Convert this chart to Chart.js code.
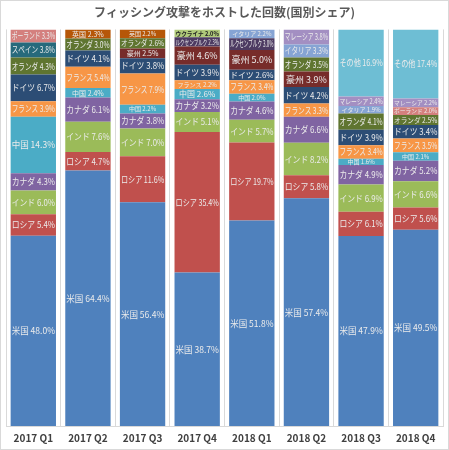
<!DOCTYPE html>
<html>
<head>
<meta charset="utf-8">
<script src="https://cdn.jsdelivr.net/npm/chart.js@4"></script>
<style>
  html, body { margin: 0; padding: 0; background: #fff; }
  #wrap { width: 449px; height: 450px; }
</style>
</head>
<body>
<div id="wrap"><canvas id="chart" width="449" height="450"></canvas></div>
<script>
// カテゴリ (四半期)
const quarters = ['2017 Q1', '2017 Q2', '2017 Q3', '2017 Q4', '2018 Q1', '2018 Q2', '2018 Q3', '2018 Q4'];

// 国別シェア (%) - 下から積み上げ順
const usa        = [48.0, 64.4, 56.4, 38.7, 51.8, 57.4, 47.9, 49.5];
const russia     = [5.4, 4.7, 11.6, 35.4, 19.7, 5.8, 6.1, 5.6];
const india      = [6.0, 7.6, 7.0, 5.1, 5.7, 8.2, 6.9, 6.6];
const canada     = [4.3, 6.1, 3.8, 3.2, 4.6, 6.6, 4.9, 5.2];
const china      = [14.3, 2.4, 2.2, 2.6, 2.0, null, 1.6, 2.1];
const france     = [3.9, 5.4, 7.9, 2.2, 3.4, 3.3, 3.4, 3.5];
const germany    = [6.7, 4.1, 3.8, 3.9, 2.6, 4.2, 3.9, 3.4];
const australia  = [null, null, 2.5, 4.6, 5.0, 3.9, null, null];
const netherland = [4.3, 3.0, 2.6, null, null, 3.5, 4.1, 2.5];
const spain      = [3.8, null, null, null, null, null, null, null];
const uk         = [null, 2.3, 2.2, null, null, null, null, null];
const luxembourg = [null, null, null, 2.3, 3.0, null, null, null];
const ukraine    = [null, null, null, 2.0, null, null, null, null];
const italy      = [null, null, null, null, 2.2, 3.3, 1.9, null];
const poland     = [3.3, null, null, null, null, null, null, 2.0];
const malaysia   = [null, null, null, null, null, 3.8, 2.4, 2.2];
const others     = [null, null, null, null, null, null, 16.9, 17.4];

const FONT = "'Noto Sans CJK JP', 'Noto Sans', sans-serif";

const series = [
  { label: '米国', data: usa, color: '#4F81BD' },
  { label: 'ロシア', data: russia, color: '#C0504D' },
  { label: 'インド', data: india, color: '#9BBB59' },
  { label: 'カナダ', data: canada, color: '#8064A2' },
  { label: '中国', data: china, color: '#4BACC6' },
  { label: 'フランス', data: france, color: '#F79646' },
  { label: 'ドイツ', data: germany, color: '#2C4D75' },
  { label: '豪州', data: australia, color: '#772C2A' },
  { label: 'オランダ', data: netherland, color: '#5F7530' },
  { label: 'スペイン', data: spain, color: '#276A7C' },
  { label: '英国', data: uk, color: '#B65708' },
  { label: 'ルクセンブルク', data: luxembourg, color: '#4D3B62' },
  { label: 'ウクライナ', data: ukraine, color: '#AFC97A', text: '#222' },
  { label: 'イタリア', data: italy, color: '#86A4D4' },
  { label: 'ポーランド', data: poland, color: '#D4807E' },
  { label: 'マレーシア', data: malaysia, color: '#A38FC2' },
  { label: 'その他', data: others, color: '#6EBED4' }
];

// 白背景 + 外枠
const frame = {
  id: 'frame',
  beforeDraw(chart) {
    const ctx = chart.ctx;
    ctx.save();
    ctx.fillStyle = '#fff';
    ctx.fillRect(0, 0, chart.width, chart.height);
    ctx.strokeStyle = '#d9d9d9';
    ctx.lineWidth = 1;
    ctx.strokeRect(0.5, 0.5, chart.width - 1, chart.height - 1);
    ctx.restore();
  }
};

// データラベル (国名 + %)
const segLabels = {
  id: 'segLabels',
  afterDatasetsDraw(chart) {
    const ctx = chart.ctx;
    ctx.save();
    ctx.textAlign = 'center';
    ctx.textBaseline = 'middle';
    chart.data.datasets.forEach((ds, i) => {
      const meta = chart.getDatasetMeta(i);
      meta.data.forEach((bar, j) => {
        const v = ds.data[j];
        if (v == null) return;
        const h = Math.abs(bar.base - bar.y);
        const size = h >= 12 ? 9 : Math.max(6, Math.floor(h - 2));
        ctx.font = (series[i].text ? 'bold ' : '') + size + 'px ' + FONT;
        ctx.fillStyle = series[i].text || '#ebebeb';
        ctx.fillText(ds.label + ' ' + v.toFixed(1) + '%', bar.x, (bar.y + bar.base) / 2, bar.width - 2);
      });
    });
    ctx.restore();
  }
};

new Chart(document.getElementById('chart'), {
  type: 'bar',
  data: {
    labels: quarters,
    datasets: series.map(s => ({
      label: s.label,
      data: s.data,
      backgroundColor: s.color,
      borderWidth: 0,
      barPercentage: 0.83,
      categoryPercentage: 1
    }))
  },
  options: {
    responsive: false,
    animation: false,
    layout: { padding: { left: 6, right: 6, top: 0, bottom: 0 } },
    plugins: {
      legend: { display: false },
      tooltip: { enabled: false },
      title: {
        display: true,
        text: 'フィッシング攻撃をホストした回数(国別シェア)',
        color: '#595959',
        font: { family: FONT, size: 12, weight: 'bold' },
        padding: { top: 5, bottom: 10 }
      }
    },
    scales: {
      x: {
        stacked: true,
        grid: { offset: true, color: '#d9d9d9', drawTicks: false },
        border: { color: '#d9d9d9' },
        ticks: {
          color: '#404040',
          padding: 6,
          font: { family: FONT, size: 10, weight: 'bold' }
        }
      },
      y: {
        stacked: true,
        display: false,
        min: 0,
        max: 100
      }
    }
  },
  plugins: [frame, segLabels]
});
</script>
</body>
</html>
